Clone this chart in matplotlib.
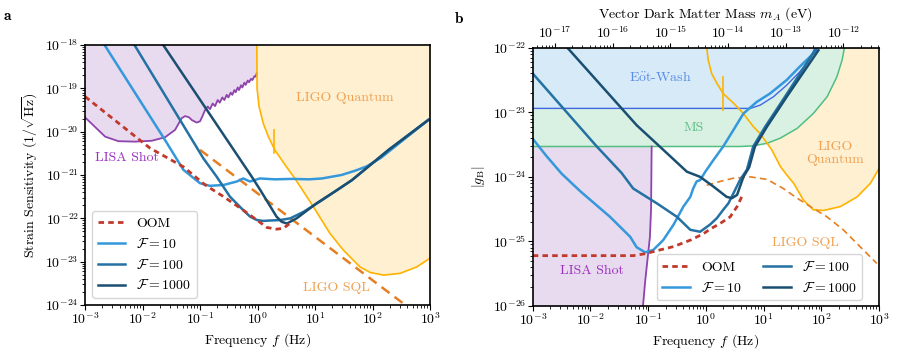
import numpy as np
import matplotlib.pyplot as plt

plt.rcParams['font.family'] = 'serif'
plt.rcParams['font.serif'] = ['cmr10']
plt.rcParams['mathtext.fontset'] = 'cm'
plt.rcParams['axes.formatter.use_mathtext'] = True
plt.rcParams['axes.unicode_minus'] = False
plt.rcParams['font.size'] = 10
plt.rcParams['xtick.major.pad'] = 1.0
plt.rcParams['ytick.major.pad'] = 1.0
plt.rcParams['xtick.minor.pad'] = 1.0
plt.rcParams['ytick.minor.pad'] = 1.0

# colours
c_f10 = '#3498db'
c_f100 = '#2471a3'
c_f1000 = '#1b4f72'
c_oom = '#c0392b'
c_sql = '#e67e22'
c_ligo = '#ffb300'
c_ligo_fill = '#fff0d2'
c_lisa = '#8e44ad'
c_lisa_fill = '#e8daef'
c_ew = '#4169e1'
c_ew_fill = '#d6eaf8'
c_ms = '#52be80'
c_ms_fill = '#d9f1e3'

# ---------------- panel a (log10 values) ----------------
lisa_a_f = [-3.0, -2.65, -2.42, -2.13, -1.84, -1.61, -1.435, -1.32, -1.26, -1.19, -1.145, -1.058,
            -1.0, -0.96, -0.913, -0.867, -0.826, -0.78, -0.739, -0.693, -0.658, -0.612, -0.577,
            -0.536, -0.507, -0.467, -0.438, -0.403, -0.38, -0.345, -0.322, -0.287, -0.264,
            -0.229, -0.206, -0.171, -0.148, -0.113, -0.09, -0.055, -0.032, -0.014]
lisa_a_h = [-19.67, -20.115, -20.22, -20.23, -20.21, -20.13, -19.96, -19.69, -19.64, -19.67, -19.73,
            -19.79, -19.76, -19.65, -19.50, -19.42, -19.48, -19.35, -19.41, -19.27, -19.33, -19.21,
            -19.27, -19.15, -19.21, -19.10, -19.15, -19.04, -19.09, -18.98, -19.04, -18.93,
            -18.98, -18.87, -18.92, -18.82, -18.86, -18.78, -18.81, -18.72, -18.73, -18.65]

ligo_a_f = [-0.012, -0.008, 0.026, 0.10, 0.19, 0.30, 0.48, 0.65, 0.97, 1.26, 1.49, 1.78, 1.96,
            2.19, 2.48, 2.77, 3.0]
ligo_a_h = [-18.0, -19.0, -19.42, -19.81, -20.12, -20.42, -20.77, -21.08, -21.73, -22.35, -22.73,
            -23.12, -23.25, -23.31, -23.27, -23.12, -22.92]
ligo_a_tick_f = [0.29, 0.29]
ligo_a_tick_h = [-19.96, -20.5]

sql_a_f = [-1.0, 2.53]
sql_a_h = [-20.42, -23.96]

oom_a_f = [-3.0, -1.87, -1.29, -0.91, -0.59, -0.25, -0.01, 0.16, 0.33, 0.45, 0.57]
oom_a_h = [-19.19, -20.38, -20.81, -21.23, -21.5, -21.81, -22.04, -22.21, -22.25, -22.23, -22.11]

f10_a_f = [-2.66, -1.61, -1.29, -1.0, -0.83, -0.59, -0.36, -0.25, -0.13, 0.04, 0.3, 0.6, 0.9,
           1.12, 1.46, 1.70, 1.90, 2.15, 2.97]
f10_a_h = [-18.0, -20.19, -20.88, -21.19, -21.25, -21.23, -21.15, -21.08, -21.15, -21.08, -21.1,
           -21.09, -21.1, -21.08, -21.0, -20.9, -20.8, -20.6, -19.73]

f100_a_f = [-2.14, -0.94, -0.71, -0.48, -0.25, -0.13, -0.01, 0.10, 0.22, 0.39, 0.57, 0.80, 1.1,
            1.64, 2.28, 2.97]
f100_a_h = [-18.0, -20.62, -21.04, -21.5, -21.81, -21.96, -22.04, -22.06, -22.05, -22.04, -22.0,
            -21.85, -21.6, -21.12, -20.42, -19.73]

f1000_a_f = [-1.64, -0.10, 0.04, 0.33, 0.42, 0.51, 0.68, 1.03, 1.38, 1.64, 2.28, 2.97]
f1000_a_h = [-18.0, -21.04, -21.33, -21.96, -22.08, -22.12, -22.0, -21.65, -21.35, -21.12,
             -20.42, -19.73]

# ---------------- panel b ----------------
ew_f = [-3.0, 0.77, 0.94, 1.17, 1.40, 1.63, 1.81, 1.89]
ew_g = [-22.94, -22.94, -22.89, -22.76, -22.58, -22.37, -22.16, -22.0]

ms_f = [-3.0, 0.59, 0.82, 1.06, 1.29, 1.58, 1.86, 2.10, 2.27, 2.36, 2.40]
ms_g = [-23.53, -23.53, -23.52, -23.48, -23.40, -23.25, -23.02, -22.76, -22.45, -22.19, -22.0]

lisa_b_f = [-0.94, -0.95, -0.97, -1.05, -1.09]
lisa_b_g = [-23.53, -24.5, -24.93, -25.6, -26.0]

ligo_b_f = [0.015, 0.04, 0.10, 0.19, 0.30, 0.48, 0.65, 0.82, 0.94, 1.14, 1.29, 1.40, 1.52, 1.69,
            1.86, 2.04, 2.33, 2.62, 2.85, 3.0]
ligo_b_g = [-22.0, -22.19, -22.40, -22.55, -22.71, -22.86, -23.02, -23.22, -23.33, -23.58, -23.84,
            -23.97, -24.10, -24.36, -24.51, -24.52, -24.46, -24.31, -24.10, -23.87]
ligo_b_tick_f = [0.29, 0.29]
ligo_b_tick_g = [-22.45, -22.96]

sql_b_f = [0.015, 0.25, 0.48, 0.77, 1.06, 1.34, 1.58, 1.81, 2.10, 2.38, 2.67, 2.96]
sql_b_g = [-24.13, -24.07, -24.02, -24.0, -24.04, -24.18, -24.33, -24.46, -24.62, -24.82, -25.08,
           -25.34]

oom_b_f = [-3.0, -1.26, -1.05, -0.79, -0.56, -0.27, -0.04, 0.07, 0.25, 0.42, 0.54, 0.62]
oom_b_g = [-25.22, -25.22, -25.19, -25.13, -25.08, -24.98, -24.88, -24.81, -24.72, -24.62, -24.46,
           -24.31]

f10_b_f = [-3.0, -2.76, -2.50, -2.18, -1.66, -1.31, -1.20, -1.05, -0.91, -0.74, -0.56, -0.39,
           -0.27, -0.22, -0.16, -0.10, -0.01, 0.13, 0.30, 0.48, 0.65, 0.88, 1.11, 1.40, 1.63, 1.92]
f10_b_g = [-23.41, -23.68, -23.95, -24.22, -24.62, -24.93, -25.09, -25.17, -25.13, -24.98, -24.74,
           -24.46, -24.31, -24.18, -24.07, -24.05, -23.92, -23.74, -23.53, -23.27, -23.02, -22.84,
           -22.71, -22.50, -22.29, -22.04]

f100_b_f = [-3.0, -2.47, -1.89, -1.46, -1.26, -0.85, -0.50, -0.27, -0.10, 0.07, 0.19, 0.30, 0.39,
            0.48, 0.59, 0.71, 0.82, 1.03, 1.37, 1.92]
f100_b_g = [-22.40, -22.94, -23.53, -23.94, -24.18, -24.41, -24.62, -24.82, -24.85, -24.74, -24.64,
            -24.51, -24.41, -24.25, -24.05, -23.89, -23.53, -23.22, -22.76, -22.0]

f1000_b_f = [-2.40, -1.46, -1.20, -0.74, -0.33, -0.10, 0.13, 0.36, 0.45, 0.54, 0.65, 0.75, 0.85,
             1.06, 1.40, 1.95]
f1000_b_g = [-22.0, -22.94, -23.20, -23.58, -23.92, -24.0, -24.15, -24.31, -24.33, -24.28, -24.0,
             -23.85, -23.53, -23.22, -22.76, -22.04]

h_planck = 4.135667e-15  # eV s


def p(a):
    return 10.0 ** np.array(a)


fig = plt.figure(figsize=(8.97, 3.53), dpi=100)
ax1 = fig.add_axes([0.0948, 0.136, 0.3846, 0.7365])
ax2 = fig.add_axes([0.5939, 0.1331, 0.3861, 0.7318])

# ---------- panel a ----------
ax1.fill_between(p(lisa_a_f), p(lisa_a_h), 1e-18, color=c_lisa_fill, lw=0, zorder=1)
ax1.fill_between(p(ligo_a_f), p(ligo_a_h), 1e-18, color=c_ligo_fill, lw=0, zorder=1)
ax1.plot(p(lisa_a_f), p(lisa_a_h), color=c_lisa, lw=1.3, zorder=2)
ax1.plot(p(ligo_a_f), p(ligo_a_h), color=c_ligo, lw=1.2, zorder=2)
ax1.plot(p(ligo_a_tick_f), p(ligo_a_tick_h), color=c_ligo, lw=1.2, zorder=2)
ax1.plot(p(sql_a_f), p(sql_a_h), color=c_sql, lw=1.8, ls=(0, (4, 2.5)), zorder=3)
ax1.plot(p(f10_a_f), p(f10_a_h), color=c_f10, lw=1.8, zorder=4)
ax1.plot(p(f100_a_f), p(f100_a_h), color=c_f100, lw=1.8, zorder=4)
ax1.plot(p(f1000_a_f), p(f1000_a_h), color=c_f1000, lw=1.8, zorder=4)
ax1.plot(p(oom_a_f), p(oom_a_h), color=c_oom, lw=2.0, ls=(0, (2, 1.5)), zorder=5)

ax1.text(10**1.52, 10**-19.23, 'LIGO Quantum', color='#f0a050', ha='center', va='center')
ax1.text(10**-2.27, 10**-20.61, 'LISA Shot', color='#9b30c0', ha='center', va='center')
ax1.text(10**1.38, 10**-23.61, 'LIGO SQL', color='#f0a050', ha='center', va='center')

ax1.set_xscale('log')
ax1.set_yscale('log')
ax1.set_xlim(1e-3, 1e3)
ax1.set_ylim(1e-24, 1e-18)
ax1.set_xticks([10.0**k for k in range(-3, 4)])
ax1.set_yticks([10.0**k for k in range(-24, -17)])
ax1.set_xlabel(r'Frequency $f$ (Hz)', labelpad=3)
ax1.set_ylabel(r'Strain Sensitivity $(1/\sqrt{\mathrm{Hz}})$')

leg_h = [plt.Line2D([], [], color=c_oom, lw=2.0, ls=(0, (2, 1.5))),
         plt.Line2D([], [], color=c_f10, lw=1.8),
         plt.Line2D([], [], color=c_f100, lw=1.8),
         plt.Line2D([], [], color=c_f1000, lw=1.8)]
leg_l = ['OOM', r'$\mathcal{F}=10$', r'$\mathcal{F}=100$', r'$\mathcal{F}=1000$']
ax1.legend(leg_h, leg_l, loc='lower left', fontsize=10)

# ---------- panel b ----------
ax2.fill_between(p(ligo_b_f), p(ligo_b_g), 1e-22, color=c_ligo_fill, lw=0, zorder=1)
ax2.fill_between(p(ms_f), p(ms_g), 1e-22, color=c_ms_fill, lw=0, zorder=1.2)
ax2.fill_between(p(ew_f), p(ew_g), 1e-22, color=c_ew_fill, lw=0, zorder=1.4)
ax2.fill_betweenx(p(lisa_b_g), 1e-3, p(lisa_b_f), color=c_lisa_fill, lw=0, zorder=1)
ax2.plot(p(ms_f), p(ms_g), color=c_ms, lw=1.1, zorder=2)
ax2.plot(p(ew_f), p(ew_g), color=c_ew, lw=1.0, zorder=2)
ax2.plot(p(lisa_b_f), p(lisa_b_g), color=c_lisa, lw=1.3, zorder=2)
ax2.plot(p(ligo_b_f), p(ligo_b_g), color=c_ligo, lw=1.2, zorder=2)
ax2.plot(p(ligo_b_tick_f), p(ligo_b_tick_g), color=c_ligo, lw=1.2, zorder=2)
ax2.plot(p(sql_b_f), p(sql_b_g), color=c_sql, lw=1.2, ls=(0, (4, 2.5)), zorder=3)
ax2.plot(p(f10_b_f), p(f10_b_g), color=c_f10, lw=1.8, zorder=4)
ax2.plot(p(f100_b_f), p(f100_b_g), color=c_f100, lw=1.8, zorder=4)
ax2.plot(p(f1000_b_f), p(f1000_b_g), color=c_f1000, lw=1.8, zorder=4)
ax2.plot(p(oom_b_f), p(oom_b_g), color=c_oom, lw=2.0, ls=(0, (2, 1.5)), zorder=5)

ax2.text(10**-0.79, 10**-22.46, r'E$\ddot{\rm o}$t-Wash', color='#5b8be8', ha='center', va='center')
ax2.text(10**-0.22, 10**-23.24, 'MS', color='#5cbf85', ha='center', va='center')
ax2.text(10**2.24, 10**-23.63, 'LIGO\nQuantum', color='#f0a050', ha='center', va='center',
         linespacing=1.1)
ax2.text(10**1.72, 10**-25.02, 'LIGO SQL', color='#f0a050', ha='center', va='center')
ax2.text(10**-1.98, 10**-25.46, 'LISA Shot', color='#9b30c0', ha='center', va='center')

ax2.set_xscale('log')
ax2.set_yscale('log')
ax2.set_xlim(1e-3, 1e3)
ax2.set_ylim(1e-26, 1e-22)
ax2.set_xticks([10.0**k for k in range(-3, 4)])
ax2.set_yticks([10.0**k for k in range(-26, -21)])
ax2.set_xlabel(r'Frequency $f$ (Hz)', labelpad=3)
ax2.set_ylabel(r'$|g_{\mathrm{B}}|$')
ax2.legend(leg_h, leg_l, ncol=2, loc='lower right', bbox_to_anchor=(0.951, 0.023),
           borderaxespad=0, fontsize=10, columnspacing=1.5)

sec = ax2.secondary_xaxis('top', functions=(lambda f: f * h_planck, lambda m: m / h_planck))
sec.set_xscale('log')
sec.set_xticks([10.0**k for k in range(-17, -11)])
sec.tick_params(axis='x', which='both', pad=1.0)
sec.set_xlabel(r'Vector Dark Matter Mass $m_A$ (eV)', labelpad=5)

for ax in (ax1, ax2):
    for s in ax.spines.values():
        s.set_linewidth(1.2)
        s.set_zorder(6)

fig.text(0.004, 0.955, 'a', fontfamily='cmb10', fontsize=11, va='center')
fig.text(0.507, 0.945, 'b', fontfamily='cmb10', fontsize=11, va='center')

fig.savefig('out.png', dpi=100)
